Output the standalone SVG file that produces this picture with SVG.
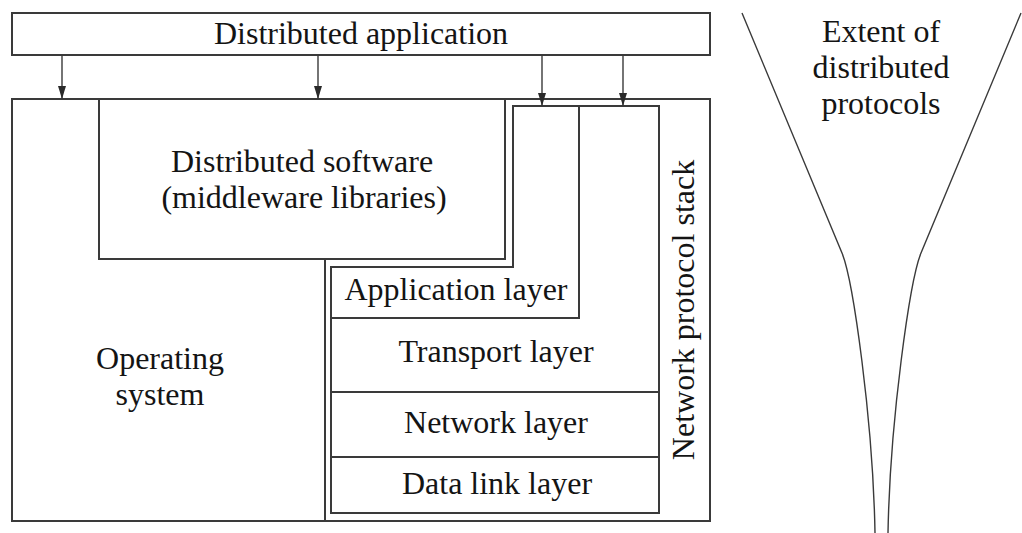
<svg xmlns="http://www.w3.org/2000/svg" width="1022" height="533" viewBox="0 0 1022 533">
<style>
  .box { fill: none; stroke: #3a3a3a; stroke-width: 2; }
  .ln { fill: none; stroke: #3a3a3a; stroke-width: 2; }
  .thin { fill: none; stroke: #3a3a3a; stroke-width: 1.4; }
  .lbl { font-family: "Liberation Serif", "Times New Roman", serif; font-size: 32px; fill: #141414; text-anchor: middle; }
</style>
<defs>
  <marker id="arrow" markerUnits="userSpaceOnUse" markerWidth="13" markerHeight="8" refX="13" refY="4" orient="auto" viewBox="0 0 13 8">
    <path d="M0,0 L13,4 L0,8 z" fill="#2a2a2a"/>
  </marker>
</defs>
<rect width="1022" height="533" fill="#ffffff"/>

<g id="distributed-application">
  <rect class="box" x="12" y="13" width="698" height="42"/>
  <text class="lbl" x="361" y="44">Distributed application</text>
</g>

<g id="operating-system">
  <rect class="box" x="12" y="99" width="698" height="422"/>
  <line class="ln" x1="325" y1="259" x2="325" y2="521"/>
  <text class="lbl" x="160" y="369">Operating</text>
  <text class="lbl" x="160" y="405">system</text>
</g>

<g id="middleware">
  <polyline class="ln" points="99,99 99,259 505,259 505,99"/>
  <text class="lbl" x="302" y="172">Distributed software</text>
  <text class="lbl" x="304" y="208">(middleware libraries)</text>
</g>

<g id="network-protocol-stack">
  <polygon class="box" points="331,267 513,267 513,106 659,106 659,513 331,513"/>
  <text class="lbl" transform="translate(694,310) rotate(-90)">Network protocol stack</text>
</g>

<g id="application-layer">
  <polyline class="ln" points="579,106 579,318 331,318"/>
  <text class="lbl" x="456" y="300">Application layer</text>
</g>

<g id="transport-layer">
  <text class="lbl" x="496" y="362">Transport layer</text>
</g>

<g id="network-layer">
  <line class="ln" x1="331" y1="392" x2="659" y2="392"/>
  <text class="lbl" x="496" y="433">Network layer</text>
</g>

<g id="data-link-layer">
  <line class="ln" x1="331" y1="457" x2="659" y2="457"/>
  <text class="lbl" x="497" y="494">Data link layer</text>
</g>

<g id="extent-of-distributed-protocols">
  <path class="thin" d="M742,13 L842,253 C853,280 873,420 875,533"/>
  <path class="thin" d="M1021,13 L921,253 C910,280 890,420 888,533"/>
  <text class="lbl" x="881" y="42">Extent of</text>
  <text class="lbl" x="881" y="78">distributed</text>
  <text class="lbl" x="881" y="114">protocols</text>
</g>

<g id="connectors">
  <line class="thin" x1="62" y1="55" x2="62" y2="99" marker-end="url(#arrow)"/>
  <line class="thin" x1="318" y1="55" x2="318" y2="99" marker-end="url(#arrow)"/>
  <line class="thin" x1="542" y1="55" x2="542" y2="106" marker-end="url(#arrow)"/>
  <line class="thin" x1="623" y1="55" x2="623" y2="106" marker-end="url(#arrow)"/>
</g>
</svg>
